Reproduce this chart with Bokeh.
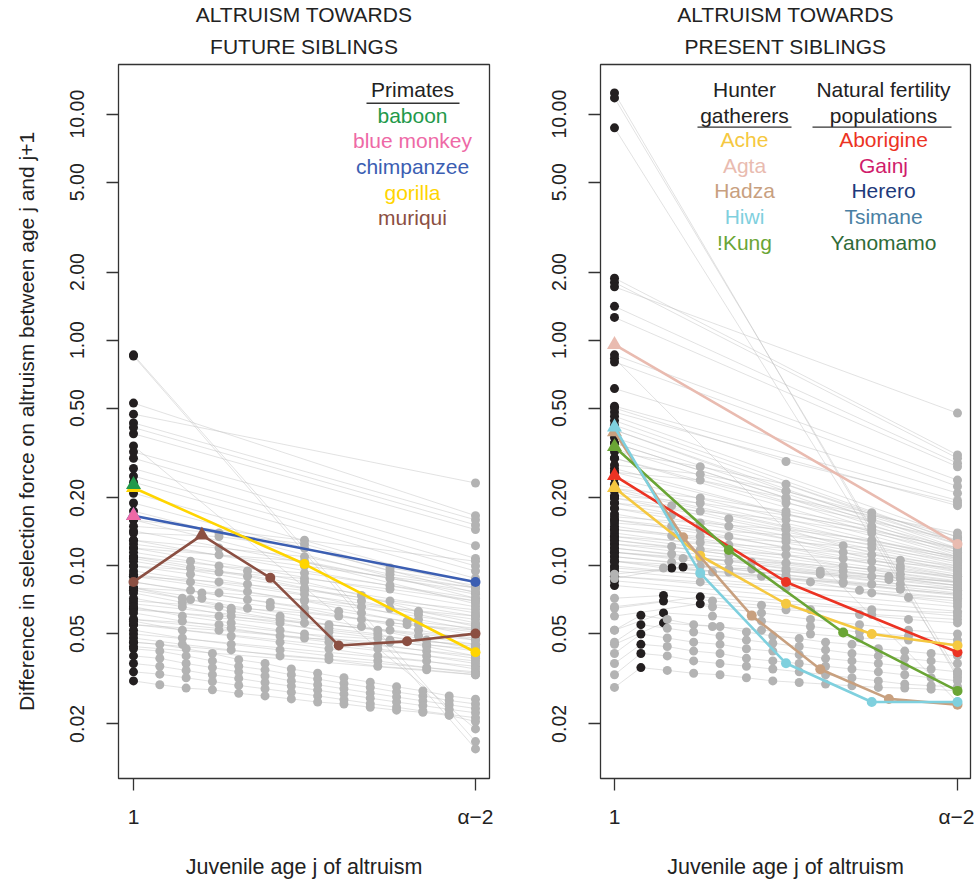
from bokeh.plotting import figure
from bokeh.models import Range1d, FixedTicker, PrintfTickFormatter, Title, ColumnDataSource
from bokeh.layouts import row
from bokeh.embed import file_html
from bokeh.resources import INLINE
from bokeh.core.properties import value

# ---------------- DATA ----------------
# Left panel: altruism towards future siblings (grey = other species)
left_14pt = [
    [0.046, 0.045, 0.043, 0.041, 0.0385, 0.037, 0.035, 0.0335, 0.032, 0.0306, 0.0292, 0.028, 0.0266, 0.0257],
    [0.043, 0.042, 0.040, 0.038, 0.036, 0.0347, 0.033, 0.0316, 0.0302, 0.029, 0.0277, 0.0266, 0.0254, 0.0245],
    [0.040, 0.039, 0.037, 0.0355, 0.034, 0.0326, 0.031, 0.0298, 0.0286, 0.0274, 0.0263, 0.0253, 0.0243, 0.0234],
    [0.037, 0.036, 0.0345, 0.033, 0.0318, 0.0305, 0.0294, 0.0282, 0.0271, 0.026, 0.025, 0.0241, 0.0232, 0.0224],
    [0.034, 0.0332, 0.032, 0.0308, 0.0296, 0.0286, 0.0276, 0.0266, 0.0256, 0.0246, 0.0237, 0.0228, 0.022, 0.0213],
    [0.031, 0.0298, 0.0288, 0.0283, 0.0273, 0.0266, 0.0258, 0.025, 0.0245, 0.0237, 0.023, 0.0225, 0.0218, 0.0205],
]
left_8pt = [
    [0.080, 0.072, 0.065, 0.060, 0.055, 0.052, 0.047, 0.043],
    [0.076, 0.069, 0.063, 0.058, 0.053, 0.050, 0.045, 0.042],
    [0.072, 0.066, 0.060, 0.056, 0.051, 0.048, 0.044, 0.040],
    [0.066, 0.060, 0.056, 0.052, 0.048, 0.045, 0.042, 0.039],
    [0.062, 0.057, 0.053, 0.049, 0.046, 0.043, 0.040, 0.037],
    [0.057, 0.052, 0.049, 0.046, 0.043, 0.040, 0.038, 0.035],
    [0.052, 0.048, 0.045, 0.0425, 0.040, 0.038, 0.0355, 0.0335],
    [0.048, 0.045, 0.0425, 0.040, 0.0385, 0.036, 0.0347, 0.033],
]
left_7pt = [
    [0.115, 0.105, 0.095, 0.085, 0.074, 0.063, 0.056],
    [0.108, 0.098, 0.090, 0.080, 0.070, 0.061, 0.054],
    [0.100, 0.092, 0.083, 0.075, 0.066, 0.058, 0.052],
    [0.092, 0.085, 0.077, 0.070, 0.062, 0.055, 0.049],
    [0.085, 0.078, 0.071, 0.065, 0.058, 0.052, 0.047],
    [0.078, 0.071, 0.065, 0.060, 0.054, 0.049, 0.045],
]
left_6pt = [
    [0.085, 0.076, 0.069, 0.063, 0.057, 0.053],
    [0.080, 0.072, 0.066, 0.060, 0.055, 0.051],
]
left_5pt = [
    [0.150, 0.140, 0.125, 0.098, 0.085],
    [0.140, 0.135, 0.120, 0.095, 0.082],
    [0.130, 0.120, 0.110, 0.092, 0.080],
    [0.120, 0.112, 0.105, 0.088, 0.077],
    [0.110, 0.100, 0.093, 0.082, 0.072],
    [0.100, 0.094, 0.088, 0.079, 0.070],
    [0.090, 0.085, 0.078, 0.070, 0.064],
    [0.080, 0.076, 0.071, 0.065, 0.060],
    [0.070, 0.066, 0.062, 0.056, 0.052],
    [0.064, 0.060, 0.056, 0.052, 0.048],
    [0.058, 0.055, 0.050, 0.047, 0.045],
    [0.055, 0.052, 0.048, 0.046, 0.043],
]
left_3pt = [
    [0.160, 0.130, 0.105],
    [0.125, 0.100, 0.080],
]
left_2pt = [
    [0.86, 0.0167], [0.85, 0.0155], [0.526, 0.167], [0.47, 0.233], [0.43, 0.160],
    [0.41, 0.152], [0.385, 0.145], [0.34, 0.019], [0.32, 0.123], [0.30, 0.108],
    [0.27, 0.100], [0.25, 0.095], [0.235, 0.088], [0.21, 0.080], [0.19, 0.076],
    [0.175, 0.072], [0.16, 0.068], [0.143, 0.075], [0.13, 0.070], [0.12, 0.066],
    [0.11, 0.062], [0.105, 0.060], [0.095, 0.058], [0.09, 0.055], [0.068, 0.047],
    [0.065, 0.044], [0.058, 0.040], [0.055, 0.038], [0.050, 0.036], [0.046, 0.034],
    [0.044, 0.033],
]

# Right panel: altruism towards present siblings (grey = other populations)
right_14pt = [
    [0.052, 0.0605, 0.058, 0.055, 0.054, 0.051, 0.049, 0.0477, 0.046, 0.045, 0.043, 0.042, 0.041, 0.040],
    [0.046, 0.055, 0.053, 0.051, 0.049, 0.047, 0.0455, 0.044, 0.0425, 0.041, 0.040, 0.039, 0.038, 0.037],
    [0.041, 0.050, 0.048, 0.046, 0.045, 0.043, 0.042, 0.0405, 0.039, 0.038, 0.037, 0.036, 0.035, 0.034],
    [0.037, 0.045, 0.044, 0.042, 0.041, 0.039, 0.038, 0.037, 0.036, 0.035, 0.034, 0.033, 0.032, 0.031],
    [0.033, 0.041, 0.040, 0.038, 0.037, 0.036, 0.035, 0.034, 0.033, 0.032, 0.031, 0.030, 0.0295, 0.0292],
    [0.029, 0.0355, 0.0345, 0.0335, 0.033, 0.032, 0.031, 0.0305, 0.030, 0.0295, 0.029, 0.0288, 0.0285, 0.028],
]
right_8pt = [
    [0.072, 0.074, 0.070, 0.067, 0.064, 0.061, 0.058, 0.056],
    [0.066, 0.070, 0.066, 0.062, 0.058, 0.055, 0.052, 0.050],
    [0.052, 0.062, 0.060, 0.057, 0.054, 0.051, 0.049, 0.047],
    [0.045, 0.056, 0.054, 0.052, 0.050, 0.048, 0.047, 0.045],
    [0.105, 0.098, 0.094, 0.090, 0.085, 0.078, 0.0725, 0.068],
]
right_7pt = [
    [0.20, 0.185, 0.162, 0.145, 0.123, 0.106, 0.095],
    [0.18, 0.168, 0.15, 0.132, 0.115, 0.10, 0.09],
    [0.16, 0.15, 0.135, 0.12, 0.108, 0.097, 0.088],
    [0.145, 0.136, 0.124, 0.112, 0.10, 0.092, 0.085],
    [0.13, 0.122, 0.112, 0.103, 0.095, 0.088, 0.082],
    [0.12, 0.113, 0.105, 0.097, 0.09, 0.083, 0.078],
    [0.11, 0.104, 0.097, 0.091, 0.085, 0.079, 0.075],
    [0.088, 0.098, 0.094, 0.089, 0.084, 0.079, 0.075],
]
right_6pt = [
    [0.092, 0.099, 0.097, 0.092, 0.087, 0.082],
    [0.115, 0.108, 0.104, 0.095, 0.090, 0.085],
]
right_5pt = [
    [0.32, 0.275, 0.23, 0.172, 0.13],
    [0.28, 0.255, 0.215, 0.165, 0.128],
    [0.26, 0.24, 0.20, 0.16, 0.125],
    [0.22, 0.20, 0.175, 0.150, 0.120],
    [0.205, 0.19, 0.168, 0.145, 0.118],
    [0.19, 0.175, 0.160, 0.140, 0.115],
    [0.165, 0.155, 0.145, 0.130, 0.110],
    [0.155, 0.145, 0.137, 0.125, 0.108],
    [0.145, 0.135, 0.128, 0.120, 0.105],
    [0.135, 0.127, 0.12, 0.112, 0.10],
    [0.125, 0.118, 0.112, 0.105, 0.098],
    [0.115, 0.108, 0.103, 0.097, 0.09],
    [0.105, 0.100, 0.095, 0.090, 0.085],
    [0.098, 0.092, 0.088, 0.083, 0.08],
    [0.09, 0.085, 0.08, 0.076, 0.072],
    [0.065, 0.073, 0.068, 0.064, 0.062],
    [0.060, 0.068, 0.064, 0.061, 0.058],
]
right_3pt = [
    [0.50, 0.29, 0.19],
    [0.40, 0.214, 0.135],
    [0.35, 0.20, 0.14],
    [0.30, 0.19, 0.13],
    [0.26, 0.17, 0.12],
    [0.22, 0.15, 0.11],
]
right_2pt = [
    [12.4, 0.032], [11.8, 0.034], [8.7, 0.033], [1.88, 0.31], [1.80, 0.30],
    [1.72, 0.475], [1.41, 0.285], [1.26, 0.275], [0.86, 0.24], [0.83, 0.025],
    [0.80, 0.225], [0.61, 0.21], [0.51, 0.195], [0.48, 0.185], [0.46, 0.134],
    [0.44, 0.128], [0.42, 0.125], [0.40, 0.12], [0.37, 0.118], [0.35, 0.115],
    [0.33, 0.112], [0.30, 0.11], [0.27, 0.108], [0.245, 0.106], [0.23, 0.104],
    [0.215, 0.102], [0.20, 0.10], [0.19, 0.098], [0.18, 0.096], [0.17, 0.094],
    [0.16, 0.092], [0.15, 0.09], [0.14, 0.088], [0.135, 0.086], [0.13, 0.084],
    [0.125, 0.082], [0.12, 0.08], [0.115, 0.078], [0.11, 0.076], [0.105, 0.074],
    [0.10, 0.072], [0.095, 0.07], [0.09, 0.066], [0.086, 0.063], [0.082, 0.06],
]

# Highlighted series
primate_names = ["baboon", "blue monkey", "chimpanzee", "gorilla", "muriqui"]
primate_colors = ["#22994a", "#ee69a6", "#3b5eb2", "#ffd500", "#8b4f42"]
baboon = [0.229]
blue_monkey = [0.167]
chimpanzee = [0.167, 0.085]
gorilla = [0.222, 0.102, 0.0415]
muriqui = [0.085, 0.137, 0.0886, 0.0445, 0.0464, 0.0502]

hg_names = ["Ache", "Agta", "Hadza", "Hiwi", "!Kung"]
hg_colors = ["#f5c840", "#e9bbb0", "#c8a07f", "#7fd0de", "#6aa535"]
nf_names = ["Aborigine", "Gainj", "Herero", "Tsimane", "Yanomamo"]
nf_colors = ["#ec3323", "#d01c6b", "#1e3a7b", "#4a7fa3", "#2f6b38"]
ache = [0.222, 0.111, 0.068, 0.050, 0.0445]
agta = [0.955, 0.125]
hadza = [0.392, 0.134, 0.0603, 0.0349, 0.0258, 0.0243]
hiwi = [0.412, 0.093, 0.0371, 0.025, 0.025]
kung = [0.337, 0.1176, 0.0508, 0.028]
aborigine = [0.251, 0.085, 0.0415]

y_ticks = [0.02, 0.05, 0.1, 0.2, 0.5, 1, 2, 5, 10]

# ---------------- LAYOUT ----------------
H = 881
BORDER_TOP, BORDER_BOTTOM = 63, 99
Y_RANGE = (10 ** (1 - (782 - 113) / 227.5), 10 ** (1 + (113 - 63) / 227.5))
FONT = "Liberation Sans"
GREY_DOT = "#b3b3b3"
BLACK_DOT = "#231f20"
TXT = "#222222"


def ypix(py):
    # vertical position on the reference page -> data value (for legend text only)
    return 10 ** (1 - (py - 113) / 227.5)


def positions(vals):
    n = len(vals)
    return [0.0] if n == 1 else [k / (n - 1) for k in range(n)]


def make_fig(width, bl, br, xr, ylabel):
    p = figure(width=width, height=H, y_axis_type="log",
               x_range=Range1d(*xr), y_range=Range1d(*Y_RANGE),
               output_backend="svg", toolbar_location=None, title=None,
               min_border_left=bl, min_border_right=br,
               min_border_top=BORDER_TOP, min_border_bottom=BORDER_BOTTOM)
    p.grid.visible = False
    p.outline_line_color = "#333333"
    p.outline_line_width = 1.3
    p.background_fill_color = "white"
    p.border_fill_color = "white"

    xa = p.xaxis[0]
    xa.ticker = FixedTicker(ticks=[0, 1])
    xa.major_label_overrides = {0: "1", 1: "α−2"}
    xa.axis_line_color = None
    xa.major_tick_out = 12
    xa.major_tick_in = 0
    xa.major_tick_line_color = "#333333"
    xa.major_tick_line_width = 1.3
    xa.minor_tick_line_color = None
    xa.major_label_standoff = 14
    xa.major_label_text_font = FONT
    xa.major_label_text_font_size = "21px"
    xa.major_label_text_color = TXT
    xa.axis_label = "Juvenile age j of altruism"
    xa.axis_label_text_font = FONT
    xa.axis_label_text_font_size = "21.5px"
    xa.axis_label_text_font_style = "normal"
    xa.axis_label_text_color = TXT
    xa.axis_label_standoff = 24

    ya = p.yaxis[0]
    ya.ticker = FixedTicker(ticks=y_ticks)
    ya.formatter = PrintfTickFormatter(format="%.2f")
    ya.axis_line_color = None
    ya.major_tick_out = 12
    ya.major_tick_in = 0
    ya.major_tick_line_color = "#333333"
    ya.major_tick_line_width = 1.3
    ya.minor_tick_line_color = None
    ya.major_label_orientation = "vertical"
    ya.major_label_standoff = 22
    ya.major_label_text_font = FONT
    ya.major_label_text_font_size = "19.5px"
    ya.major_label_text_color = TXT
    if ylabel:
        ya.axis_label = ylabel
        ya.axis_label_text_font = FONT
        ya.axis_label_text_font_size = "21px"
        ya.axis_label_text_font_style = "normal"
        ya.axis_label_text_color = TXT
        ya.axis_label_standoff = 30
    return p


def add_titles(p, line1, line2):
    p.add_layout(Title(text=line2, align="center", text_font=FONT, text_font_size="21px",
                       text_font_style="normal", text_color=TXT, standoff=14), "above")
    p.add_layout(Title(text=line1, align="center", text_font=FONT, text_font_size="21px",
                       text_font_style="normal", text_color=TXT, standoff=0,
                       text_line_height=0.8), "above")


def draw_grey(p, groups):
    xs, ys, px, py, pc = [], [], [], [], []
    for grp in groups:
        for vals in grp:
            xx = positions(vals)
            xs.append(xx)
            ys.append(vals)
            imax = vals.index(max(vals))
            for k, (a, b) in enumerate(zip(xx, vals)):
                px.append(a)
                py.append(b)
                pc.append(BLACK_DOT if k == imax else GREY_DOT)
    p.multi_line(xs=xs, ys=ys, line_color="#bdbdbd", line_width=0.8, line_alpha=0.55)
    src = ColumnDataSource(dict(x=px, y=py, c=pc))
    p.scatter("x", "y", source=src, size=9, fill_color="c", line_color=None)


def draw_colored(p, vals, color):
    xx = positions(vals)
    if len(vals) > 1:
        p.line(xx, vals, line_color=color, line_width=2.6)
    imax = vals.index(max(vals))
    cx = [a for k, a in enumerate(xx) if k != imax]
    cy = [b for k, b in enumerate(vals) if k != imax]
    if cx:
        p.scatter(cx, cy, marker="circle", size=10, fill_color=color, line_color=None)
    p.scatter([xx[imax]], [vals[imax]], marker="triangle", size=15, fill_color=color, line_color=None)


def add_text(p, xs, ys, texts, colors):
    p.text(x=xs, y=ys, text=texts, text_color=colors, text_align="center",
           text_baseline="middle", text_font=value(FONT), text_font_size="21px")


# ---------------- LEFT PANEL ----------------
L0, L1 = 133, 475
p1 = make_fig(497, 118, 8, ((118 - L0) / (L1 - L0), (489 - L0) / (L1 - L0)),
              "Difference in selection force on altruism between age j and j+1")
add_titles(p1, "ALTRUISM TOWARDS", "FUTURE SIBLINGS")
draw_grey(p1, [left_2pt, left_3pt, left_5pt, left_6pt, left_7pt, left_8pt, left_14pt])
for vals, col in [(chimpanzee, primate_colors[2]), (gorilla, primate_colors[3]),
                  (muriqui, primate_colors[4]), (baboon, primate_colors[0]),
                  (blue_monkey, primate_colors[1])]:
    draw_colored(p1, vals, col)

lx = (412 - L0) / (L1 - L0)
add_text(p1, [lx], [ypix(88)], ["Primates"], [TXT])
p1.segment(x0=[(366 - L0) / (L1 - L0)], y0=[ypix(102)], x1=[(459 - L0) / (L1 - L0)], y1=[ypix(102)],
           line_color="#333333", line_width=1.3)
add_text(p1, [lx] * 5, [ypix(v) for v in (114, 140, 166, 192, 217)], primate_names, primate_colors)

# ---------------- RIGHT PANEL ----------------
R0, R1 = 614, 957
p2 = make_fig(477, 103, 4, ((600 - R0) / (R1 - R0), (970 - R0) / (R1 - R0)), None)
add_titles(p2, "ALTRUISM TOWARDS", "PRESENT SIBLINGS")
draw_grey(p2, [right_2pt, right_3pt, right_5pt, right_6pt, right_7pt, right_8pt, right_14pt])
for vals, col in [(agta, hg_colors[1]), (aborigine, nf_colors[0]), (ache, hg_colors[0]),
                  (hadza, hg_colors[2]), (kung, hg_colors[4]), (hiwi, hg_colors[3])]:
    draw_colored(p2, vals, col)

hx = (744 - R0) / (R1 - R0)
nx = (883 - R0) / (R1 - R0)
add_text(p2, [hx, hx, nx, nx], [ypix(88), ypix(114), ypix(88), ypix(114)],
         ["Hunter", "gatherers", "Natural fertility", "populations"], [TXT] * 4)
p2.segment(x0=[(697 - R0) / (R1 - R0), (812 - R0) / (R1 - R0)], y0=[ypix(126)] * 2,
           x1=[(791 - R0) / (R1 - R0), (951 - R0) / (R1 - R0)], y1=[ypix(126)] * 2,
           line_color="#333333", line_width=1.3)
rows_y = [ypix(v) for v in (139, 165, 190, 216, 242)]
add_text(p2, [hx] * 5, rows_y, hg_names, hg_colors)
add_text(p2, [nx] * 5, rows_y, nf_names, nf_colors)

layout = row(p1, p2)
open("out.html", "w").write(file_html(layout, INLINE))
